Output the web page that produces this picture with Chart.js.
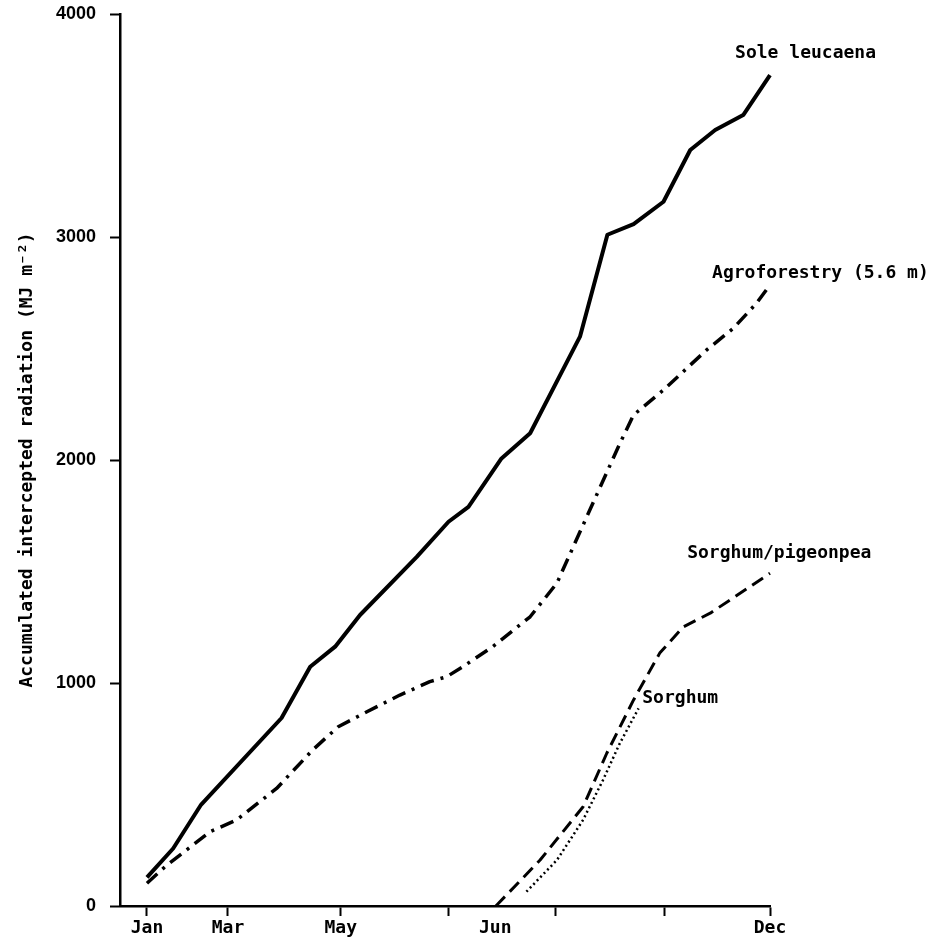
<!DOCTYPE html>
<html>
<head>
<meta charset="utf-8">
<title>Accumulated intercepted radiation</title>
<script src="https://cdn.jsdelivr.net/npm/chart.js@4"></script>
<style>
  body { margin: 0; background: #fff; }
  #wrap { width: 940px; height: 939px; position: relative; }
</style>
</head>
<body>
<div id="wrap"><canvas id="js--chart"></canvas></div>
<script>
// time axis runs 0 (Jan) .. 100 (Dec)
const tickPos = [0, 13, 31.1, 48.4, 65.6, 83.1, 100];
const labelPos = [0, 13, 31.1, 55.9, 100];
const labelText = ["Jan", "Mar", "May", "Jun", "Dec"];

const yTicks = [0, 1000, 2000, 3000, 4000];

// Sole leucaena
const leucX = [0, 4.2, 8.7, 21.6, 26.2, 30.2, 34.2, 43.3, 48.4, 51.6, 56.9, 61.5, 69.5, 73.9, 78.1, 82.9, 87.2, 91.2, 95.7, 100];
const leucY = [128, 258, 455, 843, 1073, 1163, 1305, 1566, 1723, 1790, 2007, 2120, 2553, 3010, 3058, 3158, 3390, 3480, 3547, 3726];

// Agroforestry (5.6 m)
const agroX = [0, 2.9, 10.1, 14.4, 20.8, 26.6, 30.7, 35.3, 40.6, 45.4, 48.1, 50.7, 55.5, 61.5, 65.8, 70.6, 75.9, 78.1, 82.9, 89.8, 94.1, 97.8, 100];
const agroY = [102, 176, 333, 386, 527, 700, 804, 871, 946, 1006, 1028, 1073, 1163, 1297, 1448, 1746, 2074, 2202, 2314, 2493, 2590, 2702, 2785];

// Sorghum/pigeonpea
const pigeonX = [56.0, 63.1, 70.0, 73.8, 78.1, 82.3, 86.1, 90.4, 100];
const pigeonY = [0, 206, 445, 685, 924, 1134, 1252, 1313, 1492];

// Sorghum
const sorgX = [60.9, 65.8, 70.0, 73.2, 75.9, 78.9];
const sorgY = [64, 206, 386, 565, 730, 886];

// curve names, placed next to the line ends
const noteText = ["Sole leucaena", "Agroforestry (5.6 m)", "Sorghum/pigeonpea", "Sorghum"];
const noteX = [94.4, 90.7, 86.7, 79.5];
const noteY = [3825, 2838, 1583, 933];

const pts = (xs, ys) => xs.map((x, i) => ({ x: x, y: ys[i] }));

const lineStyle = {
    borderColor: "#000",
    pointRadius: 0,
    tension: 0,
    fill: false,
    clip: false,
    borderJoinStyle: "round"
};

const notes = {
    id: "notes",
    afterDatasetsDraw(chart) {
        const c = chart.ctx;
        const sx = chart.scales.x, sy = chart.scales.y;
        c.save();
        c.fillStyle = "#000";
        c.font = "bold 18px 'DejaVu Sans Mono'";
        c.textAlign = "left";
        c.textBaseline = "middle";
        noteText.forEach((t, i) => {
            c.fillText(t, sx.getPixelForValue(noteX[i]), sy.getPixelForValue(noteY[i]));
        });
        c.restore();
    }
};

new Chart(document.getElementById("js--chart"), {
    type: "line",
    data: {
        datasets: [
            { ...lineStyle, label: noteText[0], data: pts(leucX, leucY), borderWidth: 4 },
            { ...lineStyle, label: noteText[1], data: pts(agroX, agroY), borderWidth: 3.5, borderDash: [14, 7, 3, 7] },
            { ...lineStyle, label: noteText[2], data: pts(pigeonX, pigeonY), borderWidth: 3, borderDash: [13, 7] },
            { ...lineStyle, label: noteText[3], data: pts(sorgX, sorgY), borderWidth: 2.5, borderDash: [2, 3], borderCapStyle: "butt" }
        ]
    },
    options: {
        responsive: true,
        maintainAspectRatio: false,
        animation: false,
        layout: { padding: { top: 14, right: 170, left: 0, bottom: 0 } },
        plugins: { legend: { display: false }, tooltip: { enabled: false } },
        scales: {
            x: {
                type: "linear",
                min: -4.33,
                max: 100,
                afterFit(s) { s.height = 33; s.paddingLeft = 0; s.paddingRight = 0; },
                afterBuildTicks(s) {
                    s.ticks = tickPos.concat(labelPos.filter(v => !tickPos.includes(v)))
                        .sort((a, b) => a - b).map(v => ({ value: v }));
                },
                ticks: {
                    autoSkip: false,
                    maxRotation: 0,
                    padding: 2,
                    color: "#000",
                    font: { family: "'DejaVu Sans Mono'", size: 18, weight: "bold" },
                    callback: (v) => {
                        const i = labelPos.indexOf(v);
                        return i < 0 ? "" : labelText[i];
                    }
                },
                grid: {
                    drawOnChartArea: false,
                    tickLength: 10,
                    tickWidth: 2,
                    tickColor: (ctx) => (ctx.tick && tickPos.includes(ctx.tick.value)) ? "#000" : "rgba(0,0,0,0)"
                },
                border: { color: "#000", width: 2.5 }
            },
            y: {
                min: 0,
                max: 4000,
                afterFit(s) { s.width = 120; s.paddingTop = 0; s.paddingBottom = 0; },
                afterBuildTicks(s) { s.ticks = yTicks.map(v => ({ value: v })); },
                ticks: {
                    padding: 14,
                    color: "#000",
                    font: { family: "'Liberation Sans', Arial, sans-serif", size: 18, weight: "bold" },
                    callback: (v) => String(v)
                },
                grid: { drawOnChartArea: false, tickLength: 10, tickWidth: 2, tickColor: "#000" },
                border: { color: "#000", width: 2.5 },
                title: {
                    display: true,
                    text: "Accumulated intercepted radiation (MJ m⁻²)",
                    color: "#000",
                    padding: { top: 17, bottom: 0 },
                    font: { family: "'DejaVu Sans Mono'", size: 18, weight: "bold" }
                }
            }
        }
    },
    plugins: [notes]
});
</script>
</body>
</html>
